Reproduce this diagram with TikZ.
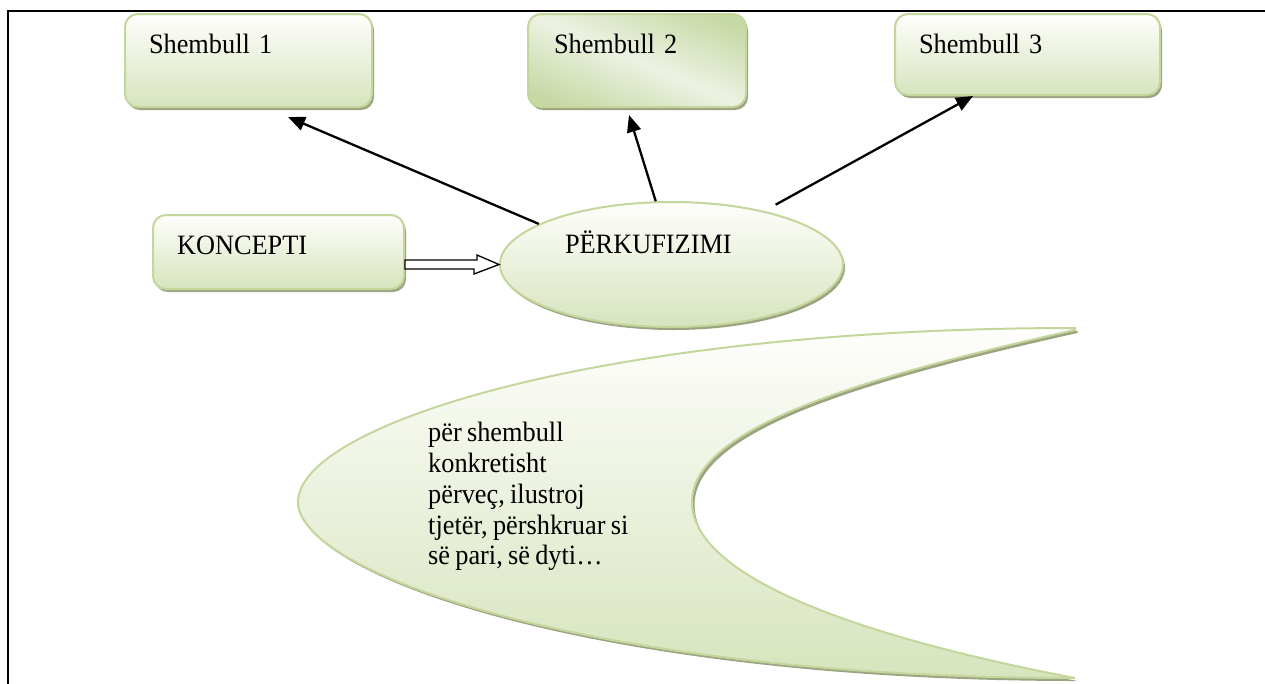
\documentclass[tikz,border=0pt]{standalone}
\usepackage{fontspec}
\setmainfont{Liberation Serif}[FakeStretch=0.94, WordSpace=0.8]
\usetikzlibrary{shapes.geometric,shadows,calc,arrows.meta}
\definecolor{gbord}{RGB}{195,214,155}
\definecolor{gfill}{RGB}{215,228,189}
\definecolor{gtop}{RGB}{254,254,252}
\definecolor{gshadow}{RGB}{155,163,128}
\definecolor{gdark}{RGB}{198,216,163}
\definecolor{glight}{RGB}{236,242,226}
\pgfdeclarehorizontalshading{diagband}{100bp}{color(0bp)=(gdark); color(22bp)=(gdark); color(50bp)=(glight); color(78bp)=(gdark); color(100bp)=(gdark)}
\begin{document}
\begin{tikzpicture}[x=1pt,y=-1pt,
  every node/.style={font=\fontsize{28}{30.8}\selectfont, text=black},
  shape3d/.style={draw=gbord, line width=2pt, top color=gtop, bottom color=gfill,
     drop shadow={shadow xshift=2pt, shadow yshift=-3pt, fill=gshadow, opacity=1}},
  tbox/.style={shape3d, rectangle, rounded corners=13pt, anchor=north west, align=left,
     inner ysep=21pt, text height=18pt},
  arr/.style={line width=2.3pt, -{Triangle[length=17pt,width=14pt]}},
  barrow/.style={draw=black, fill=white, line width=1.3pt},
  frameline/.style={line width=2.3pt, line cap=rect},
  crescent/.style={draw=gbord, line width=2pt, top color=gtop, bottom color=gfill}]
\useasboundingbox (0,0) rectangle (1265,683);
% frame
\draw[frameline] (8,683) -- (8,11) -- (1265,11);
% example boxes
\node[tbox, inner xsep=24pt, text width=199pt, text depth=33pt] (s1) at (124,13) {Shembull 1};
\node[tbox, inner xsep=26pt, text width=166pt, text depth=33pt, shading=diagband, shading angle=67] (s2) at (527,13) {Shembull 2};
\node[tbox, inner xsep=24pt, text width=217pt, text depth=21pt] (s3) at (894,13) {Shembull 3};
% concept
\node[tbox, inner xsep=24pt, text width=203pt, text depth=14pt] (konc) at (152,214) {KONCEPTI};
% definition ellipse
\node[shape3d, ellipse, minimum width=343pt, minimum height=125pt, inner sep=0pt,
      text width=213pt, align=left, text height=18pt, text depth=41pt] (perk) at (671.5,264.5) {PËRKUFIZIMI};
% block arrow
\draw[barrow] ($(konc.east |- perk.west)+(0,-4.5)$) -- ++(72,0) -- ++(0,-5) -- (perk.west)
   -- ++(-25,9.5) -- ++(0,-5) -- ($(konc.east |- perk.west)+(0,4.5)$) -- cycle;
% arrows to examples
\draw[arr] (perk.163) -- ($(s1.south)+(39.5,9)$);
\draw[arr] (perk.104) -- ($(s2.south)+(-8,7)$);
\draw[arr, shorten <=13pt] (perk.30.7) -- ($(s3.south)+(-54.5,0)$);
% crescent shadow
\fill[gshadow, shift={(2.5,3)}] (1075,328) .. controls (600,328) and (298,425) .. (298,502)
   .. controls (298,575) and (600,678) .. (1075,678)
   .. controls (850,635) and (692,575) .. (692,502)
   .. controls (692,430) and (850,380) .. (1075,330) -- cycle;
% crescent
\draw[crescent] (1075,328) .. controls (600,328) and (298,425) .. (298,502)
   .. controls (298,575) and (600,678) .. (1075,678)
   .. controls (850,635) and (692,575) .. (692,502)
   .. controls (692,430) and (850,380) .. (1075,330) -- cycle;
\node[anchor=north west, align=left, inner sep=0pt] (ex) at (428,422)
   {për shembull\\konkretisht\\përveç, ilustroj\\tjetër, përshkruar si\\së pari, së dyti…};
\end{tikzpicture}
\end{document}
